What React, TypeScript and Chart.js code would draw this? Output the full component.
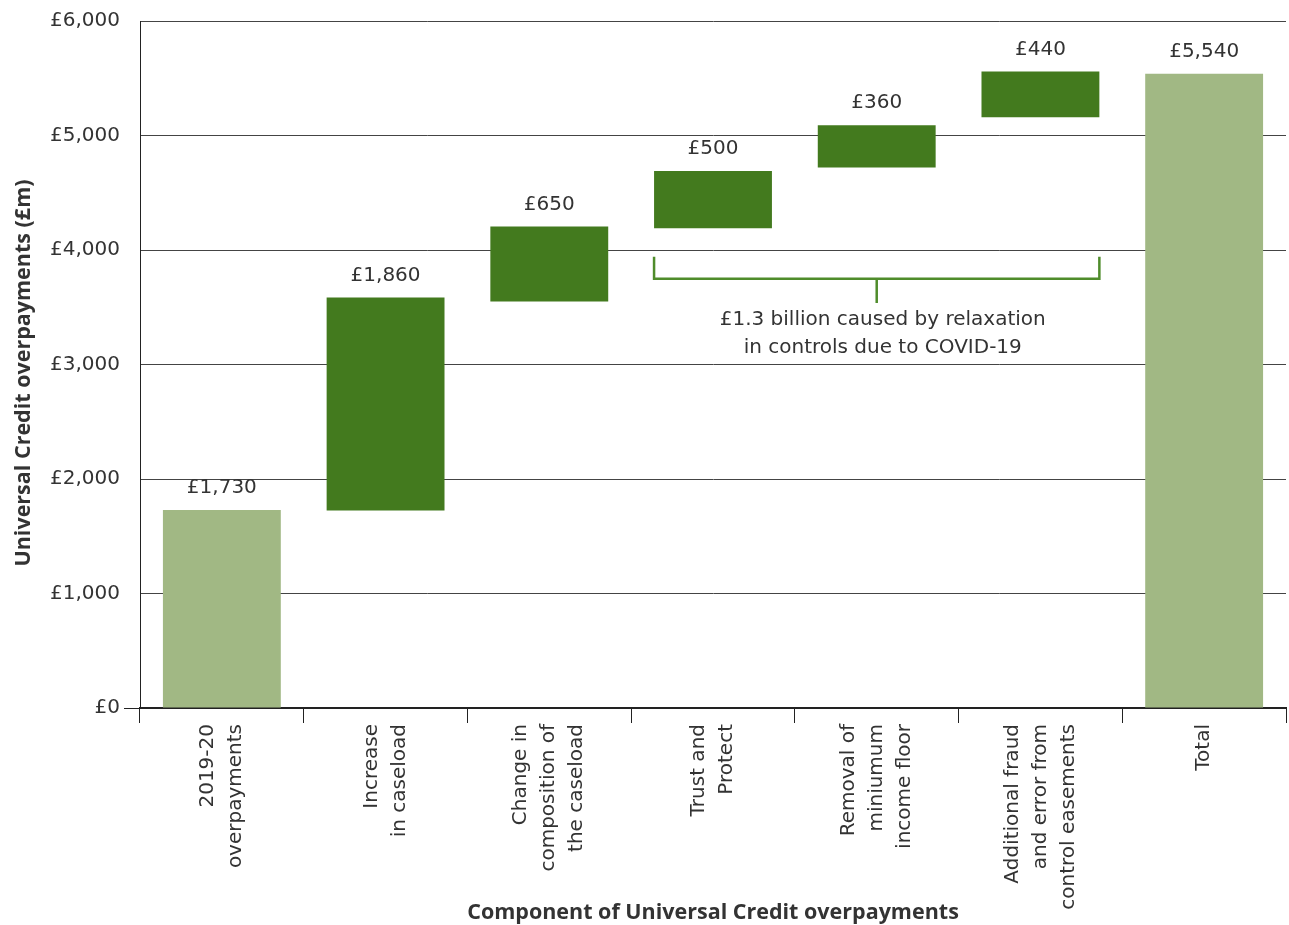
import React, { useEffect, useRef } from "react";
import { Chart, registerables } from "chart.js";

Chart.register(...registerables);

// ---- data ----
const categories: string[][] = [
  ["2019-20", "overpayments"],
  ["Increase", "in caseload"],
  ["Change in", "composition of", "the caseload"],
  ["Trust and", "Protect"],
  ["Removal of", "miniumum", "income floor"],
  ["Additional fraud", "and error from", "control easements"],
  ["Total"],
];
const barStarts = [0, 1725, 3550, 4190, 4720, 5160, 0];
const barEnds = [1730, 3585, 4205, 4690, 5090, 5560, 5540];
const valueLabels = [1730, 1860, 650, 500, 360, 440, 5540];
const isTotal = [true, false, false, false, false, false, true];
const yMin = 0;
const yMax = 6000;
const yStep = 1000;
const yTitle = "Universal Credit overpayments (£m)";
const xTitle = "Component of Universal Credit overpayments";
const bracketFromIndex = 3;
const bracketToIndex = 5;
const bracketTopValue = 3940;
const bracketBarValue = 3748;
const bracketStemValue = 3538;
const bracketText = ["£1.3 billion caused by relaxation", "in controls due to COVID-19"];

const LIGHT = "#a1b884";
const DARK = "#437a1e";
const BRACKET = "#4f8c2b";
const TEXT = "#333333";
const FONT = "'DejaVu Sans', sans-serif";
const BOLD_FONT = "'Open Sans', sans-serif";

const fmt = (v: number) => "£" + v.toLocaleString("en-GB");

export default function App() {
  const ref = useRef<HTMLCanvasElement | null>(null);

  useEffect(() => {
    if (!ref.current) return;

    const overlay = {
      id: "overlay",
      afterDatasetsDraw(chart: any) {
        const ctx = chart.ctx;
        const x = chart.scales.x;
        const y = chart.scales.y;
        const meta = chart.getDatasetMeta(0);
        ctx.save();
        // value labels
        ctx.fillStyle = TEXT;
        ctx.font = `20px ${FONT}`;
        ctx.textAlign = "center";
        ctx.textBaseline = "middle";
        meta.data.forEach((bar: any, i: number) => {
          const top = y.getPixelForValue(barEnds[i]);
          ctx.fillText(fmt(valueLabels[i]), bar.x, top - 22);
        });
        // bracket
        const half = meta.data[bracketFromIndex].width / 2;
        const lx = meta.data[bracketFromIndex].x - half;
        const rx = meta.data[bracketToIndex].x + half;
        const mx = (lx + rx) / 2;
        const yt = y.getPixelForValue(bracketTopValue);
        const yb = y.getPixelForValue(bracketBarValue);
        const ys = y.getPixelForValue(bracketStemValue);
        ctx.strokeStyle = BRACKET;
        ctx.lineWidth = 2.5;
        ctx.beginPath();
        ctx.moveTo(lx, yt);
        ctx.lineTo(lx, yb);
        ctx.lineTo(rx, yb);
        ctx.lineTo(rx, yt);
        ctx.moveTo(mx, yb);
        ctx.lineTo(mx, ys);
        ctx.stroke();
        ctx.fillStyle = TEXT;
        ctx.font = `20px ${FONT}`;
        bracketText.forEach((t, i) => {
          ctx.fillText(t, mx + 6, ys + 17 + i * 28);
        });
        // x category labels (rotated, multi-line centred)
        const lh = 28;
        ctx.font = `20px ${FONT}`;
        ctx.textAlign = "right";
        ctx.textBaseline = "middle";
        categories.forEach((lines, i) => {
          const cx = x.getPixelForTick(i);
          const n = lines.length;
          lines.forEach((ln, j) => {
            const px = cx + (j - (n - 1) / 2) * lh;
            ctx.save();
            ctx.translate(px, chart.chartArea.bottom + 16);
            ctx.rotate(-Math.PI / 2);
            ctx.fillText(ln, 0, 0);
            ctx.restore();
          });
        });
        // x title
        ctx.font = `bold 21.5px ${BOLD_FONT}`;
        ctx.textAlign = "center";
        ctx.fillText(xTitle, (chart.chartArea.left + chart.chartArea.right) / 2, 913);
        // y title
        ctx.save();
        ctx.translate(24, 373);
        ctx.rotate(-Math.PI / 2);
        ctx.fillText(yTitle, 0, 0);
        ctx.restore();
        ctx.restore();
      },
    };

    const chart = new Chart(ref.current, {
      type: "bar",
      data: {
        labels: categories.map((c) => c.join(" ")),
        datasets: [
          {
            data: barStarts.map((s, i) => [s, barEnds[i]]) as any,
            backgroundColor: isTotal.map((t) => (t ? LIGHT : DARK)),
            borderWidth: 0,
            barPercentage: 0.72,
            categoryPercentage: 1,
          },
        ],
      },
      options: {
        responsive: false,
        animation: false,
        layout: { padding: { top: 21, right: 3, left: 0, bottom: 0 } },
        plugins: {
          legend: { display: false },
          tooltip: { enabled: false },
        },
        scales: {
          x: {
            afterFit: (s: any) => {
              s.height = 217;
            },
            grid: {
              offset: true,
              drawOnChartArea: false,
              drawTicks: true,
              tickLength: 15,
              color: "#222",
              lineWidth: 1,
            },
            border: { display: true, color: "#222", width: 2 },
            ticks: { display: false },
          },
          y: {
            min: yMin,
            max: yMax,
            afterFit: (s: any) => {
              s.width = 140;
            },
            ticks: {
              stepSize: yStep,
              color: TEXT,
              font: { family: FONT, size: 20 },
              padding: 4,
              callback: (v: any) => fmt(Number(v)),
            },
            grid: {
              color: "#444",
              lineWidth: 1,
              drawTicks: true,
              tickLength: 16,
              tickColor: (c: any) => (c.tick && c.tick.value === 0 ? "#222" : "rgba(0,0,0,0)"),
            },
            border: { display: true, color: "#222", width: 1 },
          },
        },
      },
      plugins: [overlay],
    });
    return () => chart.destroy();
  }, []);

  return (
    <div style={{ position: "absolute", left: 0, top: 0, width: 1289, height: 925, background: "#fff" }}>
      <canvas ref={ref} width={1289} height={925} />
    </div>
  );
}
